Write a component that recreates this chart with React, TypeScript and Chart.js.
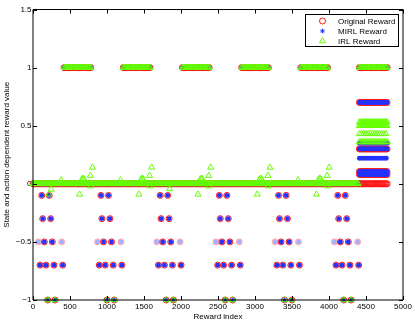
import React, { useEffect, useRef } from "react";
import { Chart, registerables } from "chart.js";

Chart.register(...registerables);

// ---------- data ----------
const xTicks = [0, 500, 1000, 1500, 2000, 2500, 3000, 3500, 4000, 4500, 5000];
const yTicks = [-1, -0.5, 0, 0.5, 1, 1.5];
const seriesNames = ["Original Reward", "MIRL Reward", "IRL Reward"];
const xTitle = "Reward index";
const yTitle = "State and action dependent reward value";

// constant-value runs of consecutive reward indices: [firstIndex, lastIndex, value, indexSpacing]
const originalRuns: number[][] = [
  [0, 4790, 0, 15],
  [420, 785, 1, 15], [1220, 1585, 1, 15], [2020, 2385, 1, 15],
  [2820, 3185, 1, 15], [3620, 3985, 1, 15], [4410, 4790, 1, 15],
  [4410, 4790, 0.7, 15], [4410, 4790, 0.3, 15],
  [4410, 4790, 0.105, 15], [4410, 4790, 0.08, 15],
];
const mirlRuns: number[][] = [
  [0, 4400, 0, 15],
  [420, 785, 1, 15], [1220, 1585, 1, 15], [2020, 2385, 1, 15],
  [2820, 3185, 1, 15], [3620, 3985, 1, 15], [4410, 4790, 1, 15],
  [4410, 4790, 0.7, 15], [4410, 4790, 0.35, 20], [4410, 4790, 0.3, 15],
  [4410, 4790, 0.22, 28], [4410, 4790, 0.105, 15], [4410, 4790, 0.08, 15],
];
const irlRuns: number[][] = [
  [0, 4400, 0, 15],
  [420, 785, 1, 15], [1220, 1585, 1, 15], [2020, 2385, 1, 15],
  [2820, 3185, 1, 15], [3620, 3985, 1, 15], [4410, 4790, 1, 15],
  [4410, 4790, 0.53, 15], [4410, 4790, 0.5, 15],
  [4410, 4790, 0.43, 30], [4410, 4790, 0.36, 20],
];

// isolated negative rewards (Original and MIRL)
const levelMinus01X = [118, 220, 918, 1020, 1718, 1820, 2518, 2620, 3318, 3420, 4118, 4220];
const levelMinus03X = [131, 239, 931, 1039, 1731, 1839, 2531, 2639, 3331, 3439, 4131, 4239];
const levelMinus05X = [72, 153, 261, 388, 872, 953, 1061, 1188, 1672, 1753, 1861, 1988,
  2472, 2553, 2661, 2788, 3272, 3353, 3461, 3588, 4072, 4153, 4261, 4388];
const faintMinus05X = [72, 388, 872, 1188, 1672, 1988, 2472, 2788, 3272, 3588, 4072, 4388];
const levelMinus07X = [95, 176, 284, 401, 895, 976, 1084, 1201, 1695, 1776, 1884, 2001,
  2495, 2576, 2684, 2801, 3295, 3376, 3484, 3601, 4095, 4176, 4284, 4401];
// reward -1 (all three series)
const levelMinus1X = [199, 298, 999, 1098, 1799, 1898, 2599, 2698, 3399, 3498, 4199, 4298];

// IRL estimates deviating from zero
const irlScatterX = [
  214, 246, 382, 630, 660, 675, 690, 775, 778, 802,
  1182, 1430, 1460, 1475, 1490, 1575, 1578, 1602,
  1846, 2230, 2260, 2275, 2290, 2375, 2378, 2402,
  3030, 3060, 3075, 3090, 3175, 3178, 3202,
  3582, 3830, 3860, 3875, 3890, 3975, 3978, 4002,
];
const irlScatterY = [
  -0.09, -0.048, 0.032, -0.091, 0.038, 0.046, 0.04, 0.07, -0.02, 0.141,
  0.032, -0.091, 0.038, 0.046, 0.04, 0.07, -0.02, 0.141,
  -0.045, -0.091, 0.038, 0.046, 0.04, 0.07, -0.02, 0.141,
  -0.091, 0.038, 0.046, 0.04, 0.07, -0.02, 0.141,
  0.032, -0.091, 0.038, 0.046, 0.04, 0.07, -0.02, 0.141,
];

// ---------- styling ----------
const RED = "rgb(255,20,20)";
const RED_FAINT = "rgba(255,60,60,0.45)";
const BLUE = "rgb(35,50,255)";
const BLUE_FAINT = "rgba(60,80,255,0.45)";
const GREEN = "rgb(100,255,0)";
const FONT = '"Liberation Sans", Arial, Helvetica, sans-serif';

type Pt = { x: number; y: number; faint?: boolean };

function expandRuns(runs: number[][]): Pt[] {
  const pts: Pt[] = [];
  for (const [a, b, v, s] of runs) {
    for (let x = a; x <= b; x += s) pts.push({ x, y: v });
  }
  return pts;
}

function negativePoints(): Pt[] {
  const pts: Pt[] = [];
  levelMinus01X.forEach((x) => pts.push({ x, y: -0.1 }));
  levelMinus03X.forEach((x) => pts.push({ x, y: -0.3 }));
  levelMinus05X.forEach((x) => pts.push({ x, y: -0.5, faint: faintMinus05X.includes(x) }));
  levelMinus07X.forEach((x) => pts.push({ x, y: -0.7 }));
  levelMinus1X.forEach((x) => pts.push({ x, y: -1 }));
  return pts;
}

const originalData: Pt[] = [...expandRuns(originalRuns), ...negativePoints()];
const mirlData: Pt[] = [...expandRuns(mirlRuns), ...negativePoints()];
const irlData: Pt[] = [
  ...expandRuns(irlRuns),
  ...levelMinus1X.map((x) => ({ x, y: -1 })),
  ...irlScatterX.map((x, i) => ({ x, y: irlScatterY[i] })),
];

const fmt = (v: number) => (v < 0 ? "\u2212" + String(Math.abs(v)) : String(v));

const framePlugin = {
  id: "matlabFrame",
  afterDatasetsDraw(chart: any) {
    const { ctx, chartArea } = chart;
    const { left, right, top, bottom } = chartArea;
    const xs = chart.scales.x;
    const ys = chart.scales.y;
    ctx.save();
    ctx.strokeStyle = "#000";
    ctx.lineWidth = 1;
    ctx.beginPath();
    ctx.moveTo(left, top);
    ctx.lineTo(right, top);
    ctx.moveTo(left, top);
    ctx.lineTo(left, bottom);
    ctx.lineTo(right, bottom);
    ctx.lineTo(right, top);
    ctx.stroke();
    ctx.beginPath();
    const tl = 4;
    xTicks.forEach((v) => {
      const px = Math.round(xs.getPixelForValue(v)) + 0.5;
      ctx.moveTo(px, bottom);
      ctx.lineTo(px, bottom - tl);
      ctx.moveTo(px, top);
      ctx.lineTo(px, top + tl);
    });
    yTicks.forEach((v) => {
      const py = Math.round(ys.getPixelForValue(v)) + 0.5;
      ctx.moveTo(left, py);
      ctx.lineTo(left + tl, py);
      ctx.moveTo(right, py);
      ctx.lineTo(right - tl, py);
    });
    ctx.stroke();
    ctx.restore();
  },
  afterDraw(chart: any) {
    const { ctx, chartArea } = chart;
    const bx = Math.round(chartArea.right - 98) + 0.5;
    const by = Math.round(chartArea.top + 4) + 0.5;
    const bw = 93;
    const bh = 32;
    ctx.save();
    ctx.fillStyle = "#fff";
    ctx.fillRect(bx, by, bw, bh);
    ctx.strokeStyle = "#000";
    ctx.lineWidth = 1;
    ctx.strokeRect(bx, by, bw, bh);
    ctx.font = "8px " + FONT;
    ctx.textBaseline = "middle";
    ctx.textAlign = "left";
    seriesNames.forEach((name, i) => {
      const cy = by + 6.5 + i * 10;
      const mx = bx + 17;
      ctx.lineWidth = 1;
      if (i === 0) {
        ctx.strokeStyle = RED;
        ctx.beginPath();
        ctx.arc(mx, cy, 3, 0, Math.PI * 2);
        ctx.stroke();
      } else if (i === 1) {
        ctx.strokeStyle = BLUE;
        ctx.beginPath();
        const r = 2.2;
        ctx.moveTo(mx - r, cy); ctx.lineTo(mx + r, cy);
        ctx.moveTo(mx, cy - r); ctx.lineTo(mx, cy + r);
        const d = r * 0.75;
        ctx.moveTo(mx - d, cy - d); ctx.lineTo(mx + d, cy + d);
        ctx.moveTo(mx - d, cy + d); ctx.lineTo(mx + d, cy - d);
        ctx.stroke();
      } else {
        ctx.strokeStyle = GREEN;
        const r = 3.5;
        ctx.beginPath();
        ctx.moveTo(mx, cy - r);
        ctx.lineTo(mx + r * 0.866, cy + r * 0.5);
        ctx.lineTo(mx - r * 0.866, cy + r * 0.5);
        ctx.closePath();
        ctx.stroke();
      }
      ctx.fillStyle = "#000";
      ctx.fillText(name, bx + 32.5, cy + 0.5);
    });
    ctx.restore();
  },
};

export default function App() {
  const ref = useRef<HTMLCanvasElement>(null);
  useEffect(() => {
    if (!ref.current) return;
    Chart.defaults.font.family = FONT;
    const chart = new Chart(ref.current, {
      type: "scatter",
      data: {
        datasets: [
          {
            label: seriesNames[0],
            data: originalData as any,
            pointStyle: "circle",
            pointRadius: 3,
            pointBorderWidth: 1,
            backgroundColor: "rgba(0,0,0,0)",
            borderColor: (c: any) => (c.raw && c.raw.faint ? RED_FAINT : RED),
            order: 3,
            clip: false as any,
          },
          {
            label: seriesNames[1],
            data: mirlData as any,
            pointStyle: "circle",
            pointRadius: 2.4,
            pointBorderWidth: 0,
            backgroundColor: (c: any) => (c.raw && c.raw.faint ? BLUE_FAINT : BLUE),
            borderColor: "rgba(0,0,0,0)",
            order: 2,
            clip: false as any,
          },
          {
            label: seriesNames[2],
            data: irlData as any,
            pointStyle: "triangle",
            pointRadius: 3.5,
            pointBorderWidth: 1,
            backgroundColor: "rgba(0,0,0,0)",
            borderColor: GREEN,
            order: 1,
            clip: false as any,
          },
        ],
      },
      options: {
        responsive: false,
        animation: false,
        devicePixelRatio: 1,
        layout: { padding: { top: 9.5, right: 12, left: 0, bottom: 0 } },
        plugins: { legend: { display: false }, tooltip: { enabled: false } },
        scales: {
          x: {
            type: "linear",
            position: "bottom",
            min: 0,
            max: 5000,
            afterFit: (s: any) => { s.height = 24; },
            afterBuildTicks: (s: any) => { s.ticks = xTicks.map((v) => ({ value: v })); },
            ticks: {
              autoSkip: false,
              maxRotation: 0,
              padding: 2,
              color: "#000",
              font: { size: 8, family: FONT },
              callback: (v: any) => fmt(Number(v)),
            },
            grid: { display: false, drawTicks: false },
            border: { display: false },
            title: {
              display: true,
              text: xTitle,
              color: "#000",
              font: { size: 8, family: FONT },
              padding: { top: 0, bottom: 2.5 },
            },
          },
          y: {
            type: "linear",
            position: "left",
            min: -1,
            max: 1.5,
            afterFit: (s: any) => { s.width = 33; },
            afterBuildTicks: (s: any) => { s.ticks = yTicks.map((v) => ({ value: v })); },
            ticks: {
              autoSkip: false,
              padding: 1.5,
              color: "#000",
              font: { size: 8, family: FONT },
              callback: (v: any) => fmt(Number(v)),
            },
            grid: { display: false, drawTicks: false },
            border: { display: false },
            title: {
              display: true,
              text: yTitle,
              color: "#000",
              font: { size: 8, family: FONT },
              padding: { top: 2, bottom: 0 },
            },
          },
        },
      },
      plugins: [framePlugin],
    });
    return () => chart.destroy();
  }, []);
  return (
    <div style={{ position: "absolute", left: 0, top: 0, width: 415, height: 324, background: "#fff" }}>
      <canvas ref={ref} width={415} height={324} style={{ display: "block", width: 415, height: 324 }} />
    </div>
  );
}
